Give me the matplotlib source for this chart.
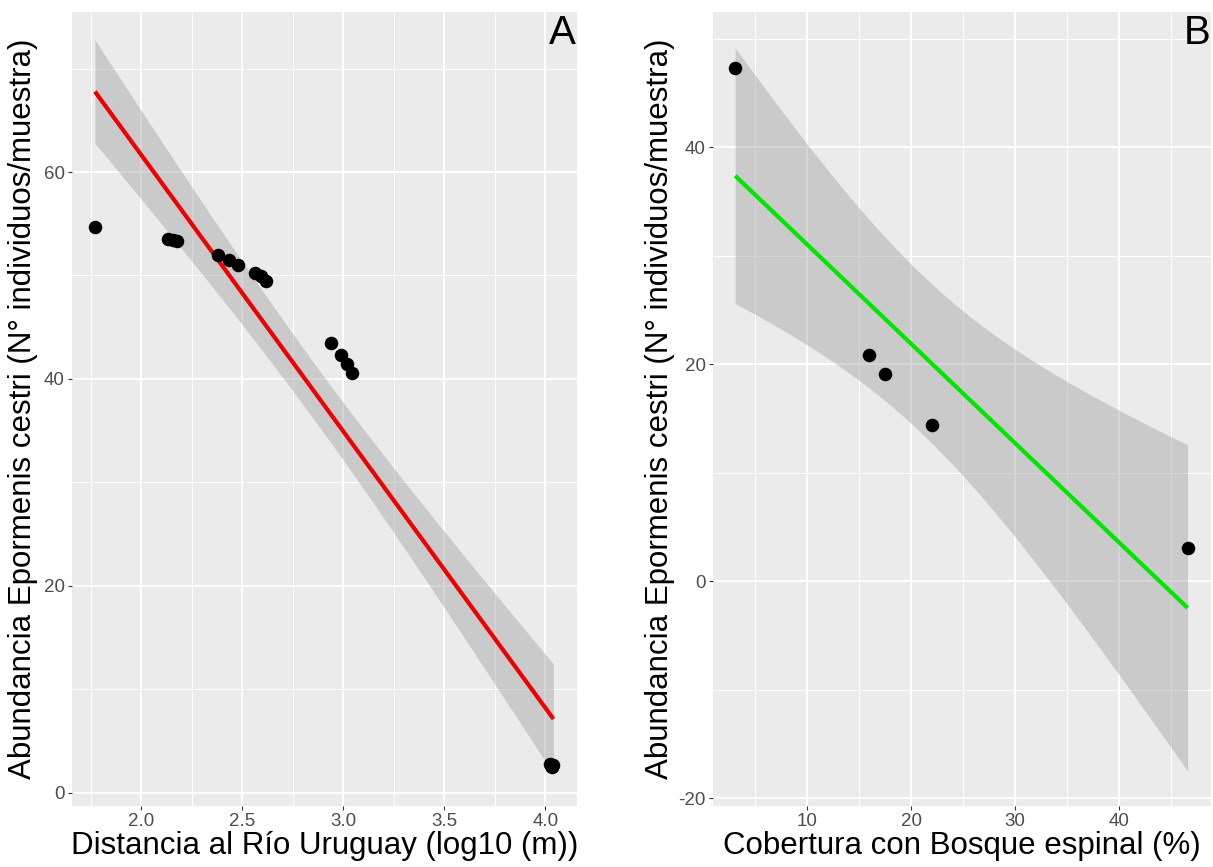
import numpy as np
import matplotlib
matplotlib.use("Agg")
import matplotlib.pyplot as plt

plt.rcParams['font.family'] = ['Liberation Sans', 'DejaVu Sans']

# ---------------- data ----------------
# Panel A: distance to river (log10 m) vs abundance
a_x = [1.770, 2.132, 2.155, 2.175, 2.380, 2.434, 2.479, 2.561, 2.590, 2.619,
       2.938, 2.986, 3.020, 3.045, 4.025, 4.030, 4.035, 4.040]
a_y = [54.7, 53.5, 53.4, 53.35, 52.0, 51.5, 51.0, 50.2, 49.9, 49.5,
       43.45, 42.3, 41.45, 40.6, 2.8, 2.6, 2.5, 2.7]
a_xticks = [2.0, 2.5, 3.0, 3.5, 4.0]
a_xticklabels = ["2.0", "2.5", "3.0", "3.5", "4.0"]
a_yticks = [0, 20, 40, 60]
a_xminor = [1.75, 2.25, 2.75, 3.25, 3.75]
a_yminor = [10, 30, 50, 70]

# Panel B: forest cover (%) vs abundance
b_x = [3.1, 16.0, 17.45, 22.05, 46.55]
b_y = [47.3, 20.86, 19.08, 14.4, 3.1]
b_xticks = [10, 20, 30, 40]
b_yticks = [-20, 0, 20, 40]
b_xminor = [5, 15, 25, 35, 45]
b_yminor = [-10, 10, 30, 50]

xlabel_a = "Distancia al Río Uruguay (log10 (m))"
xlabel_b = "Cobertura con Bosque espinal (%)"
ylabel = "Abundancia Epormenis cestri (N° individuos/muestra)"


def lm_fit(x, y, npts=80, z=1.96):
    x = np.asarray(x, float)
    y = np.asarray(y, float)
    n = len(x)
    xm = x.mean()
    sxx = ((x - xm) ** 2).sum()
    slope = ((x - xm) * (y - y.mean())).sum() / sxx
    icpt = y.mean() - slope * xm
    resid = y - (icpt + slope * x)
    s2 = (resid ** 2).sum() / (n - 2)
    xs = np.linspace(x.min(), x.max(), npts)
    ys = icpt + slope * xs
    se = np.sqrt(s2 * (1.0 / n + (xs - xm) ** 2 / sxx))
    return xs, ys, ys - z * se, ys + z * se


W, H = 1213, 867
fig = plt.figure(figsize=(W / 100, H / 100), dpi=100)
fig.patch.set_facecolor("white")

panel_top = 11.7
panel_bot = 806.0


def make_ax(left_px, right_px):
    return fig.add_axes([left_px / W, (H - panel_bot) / H,
                         (right_px - left_px) / W, (panel_bot - panel_top) / H])


def style(ax, xticks, xticklabels, yticks, xminor, yminor):
    ax.set_facecolor("#EBEBEB")
    for s in ax.spines.values():
        s.set_visible(False)
    ax.set_xticks(xticks)
    ax.set_xticklabels(xticklabels)
    ax.set_yticks(yticks)
    ax.set_yticklabels([str(t) for t in yticks])
    ax.set_xticks(xminor, minor=True)
    ax.set_yticks(yminor, minor=True)
    ax.tick_params(which="major", length=3, width=0.8, color="#333333",
                   labelcolor="#4D4D4D", labelsize=13.5, pad=2)
    ax.tick_params(which="minor", length=0)
    ax.grid(which="major", color="white", linewidth=1.3, zorder=0)
    ax.grid(which="minor", color="white", linewidth=0.65, zorder=0)
    ax.set_axisbelow(True)


# ---------------- Panel A ----------------
axA = make_ax(71.7, 576.7)
style(axA, a_xticks, a_xticklabels, a_yticks, a_xminor, a_yminor)
xs, ys, lo, hi = lm_fit(a_x, a_y)
axA.fill_between(xs, lo, hi, color="#999999", alpha=0.4, linewidth=0, zorder=2)
axA.plot(xs, ys, color="#EE0000", linewidth=3, zorder=3, solid_capstyle="butt")
axA.scatter(a_x, a_y, s=95, color="black", zorder=4, linewidths=0)
axA.set_xlim(1.655, 4.155)
axA.set_ylim(-1.3, 75.5)
axA.text(0.998, 0.997, "A", transform=axA.transAxes, ha="right", va="top",
         fontsize=29, color="black")

# ---------------- Panel B ----------------
axB = make_ax(712.7, 1211.0)
style(axB, b_xticks, [str(t) for t in b_xticks], b_yticks, b_xminor, b_yminor)
xs, ys, lo, hi = lm_fit(b_x, b_y)
axB.fill_between(xs, lo, hi, color="#999999", alpha=0.4, linewidth=0, zorder=2)
axB.plot(xs, ys, color="#00E600", linewidth=3, zorder=3, solid_capstyle="butt")
axB.scatter(b_x, b_y, s=95, color="black", zorder=4, linewidths=0)
axB.set_xlim(0.94, 48.8)
axB.set_ylim(-20.7, 52.5)
axB.text(0.998, 0.997, "B", transform=axB.transAxes, ha="right", va="top",
         fontsize=29, color="black")

# ---------------- titles ----------------
mid_y = 1 - ((panel_top + panel_bot) / 2) / H
fig.text((71.7 + 576.7) / 2 / W, 1 - 846 / H, xlabel_a, ha="center", va="center",
         fontsize=22.5, color="black")
fig.text((712.7 + 1211.0) / 2 / W, 1 - 846 / H, xlabel_b, ha="center", va="center",
         fontsize=22.5, color="black")
fig.text(23 / W, 1 - 409 / H, ylabel, rotation=90, ha="center", va="center",
         fontsize=22.5, color="black")
fig.text(660 / W, 1 - 409 / H, ylabel, rotation=90, ha="center", va="center",
         fontsize=22.5, color="black")

fig.savefig("out.png", dpi=100, facecolor="white")
